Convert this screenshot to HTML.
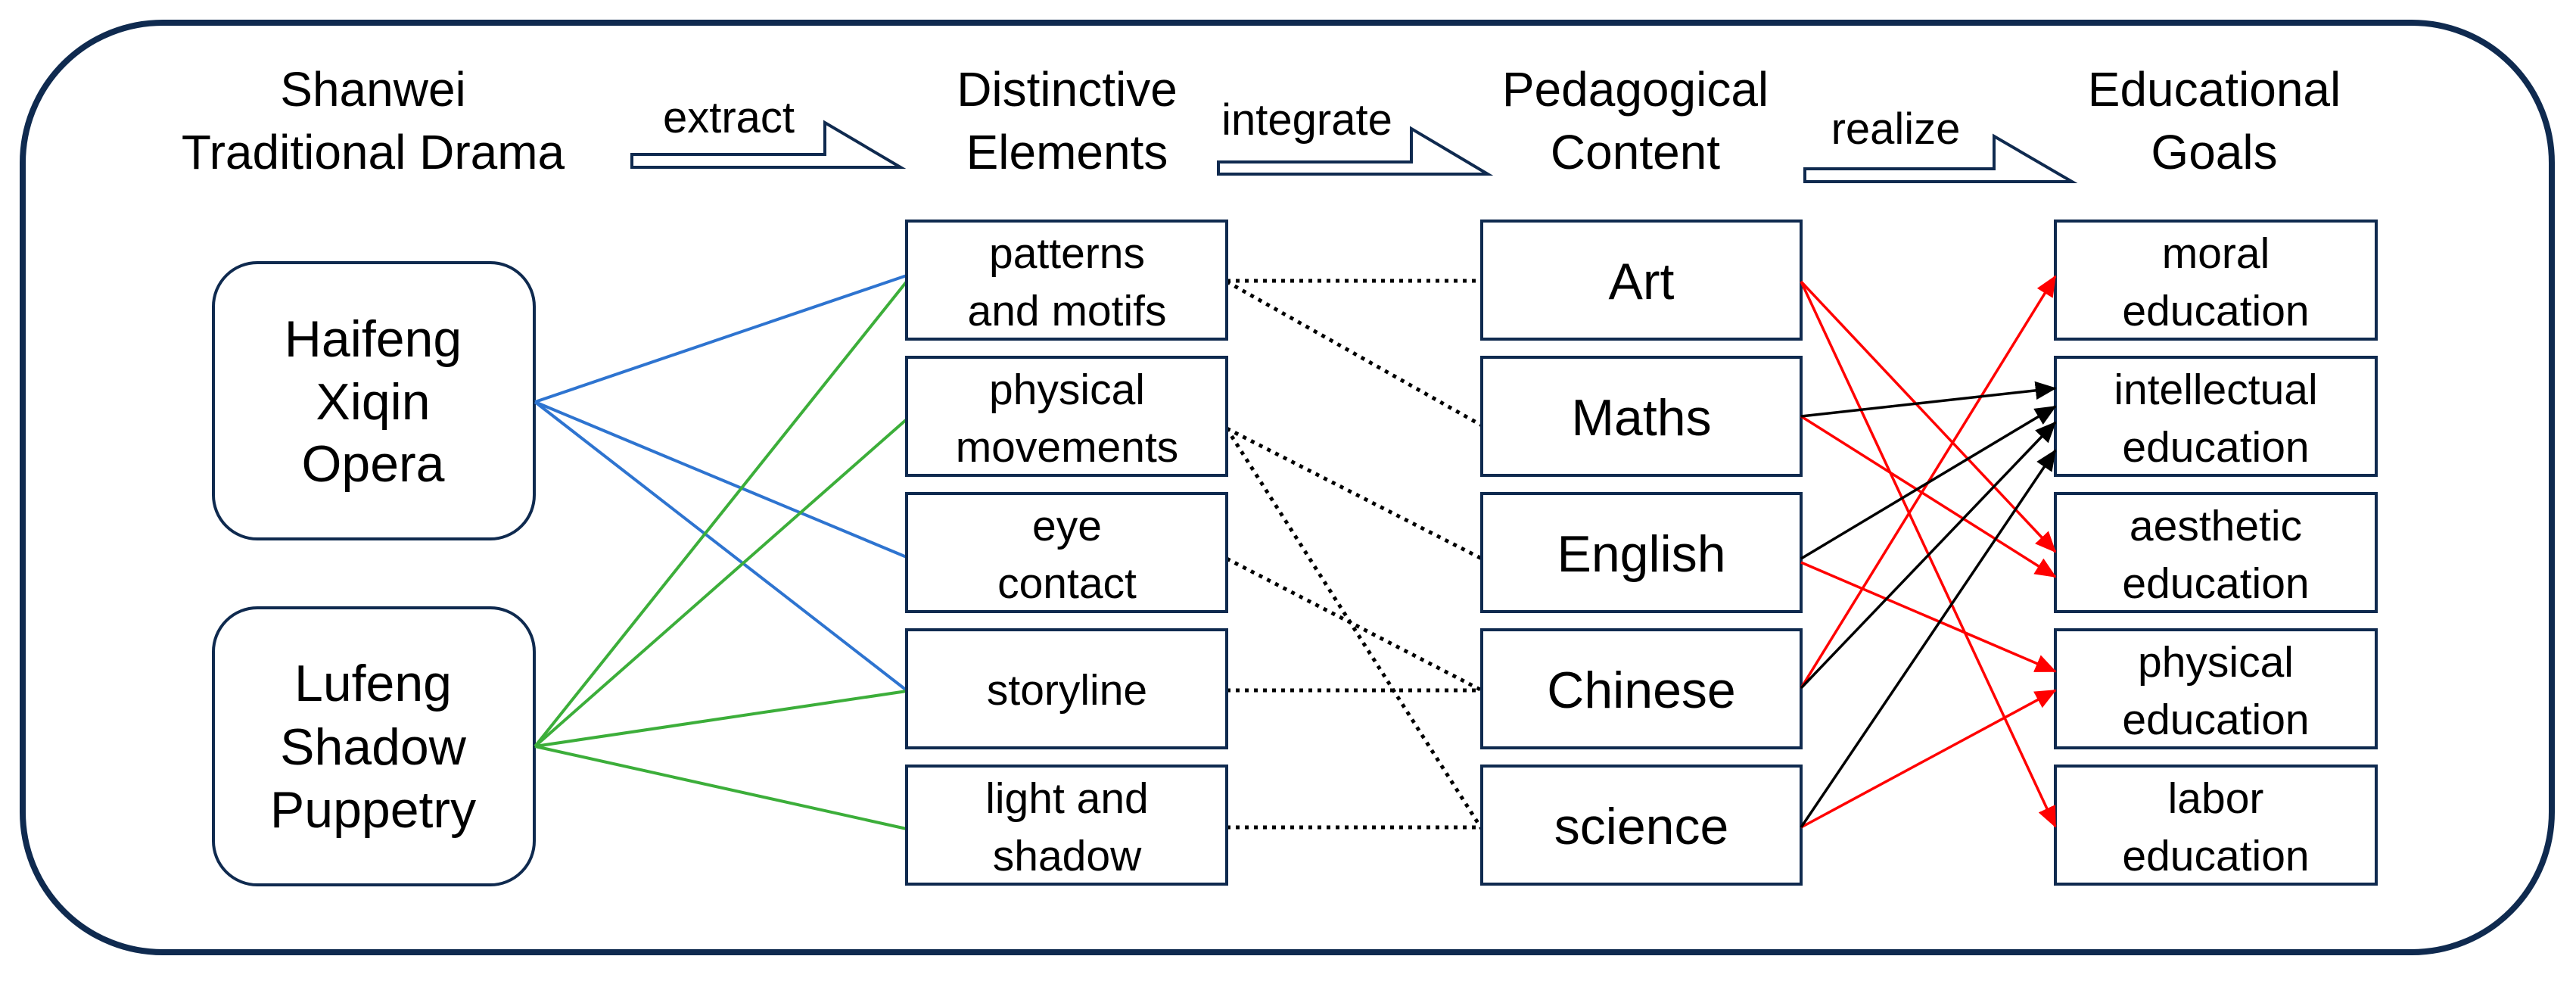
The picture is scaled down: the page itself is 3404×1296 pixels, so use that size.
<!DOCTYPE html>
<html><head><meta charset="utf-8"><style>
html,body{margin:0;padding:0;background:#fff;}
svg{display:block;}
text{font-family:"Liberation Sans",Arial,sans-serif;fill:#000;text-anchor:middle;}
</style></head><body>
<svg width="3404" height="1296" viewBox="0 0 3404 1296" xmlns="http://www.w3.org/2000/svg">
<defs>
<marker id="ar" markerWidth="8" markerHeight="7" refX="7.5" refY="3.5" orient="auto" markerUnits="strokeWidth"><path d="M0,0 L8,3.5 L0,7 z" fill="#ff0000"/></marker>
<marker id="ab" markerWidth="8" markerHeight="7" refX="7.5" refY="3.5" orient="auto" markerUnits="strokeWidth"><path d="M0,0 L8,3.5 L0,7 z" fill="#000"/></marker>
</defs>
<rect x="30" y="30" width="3342" height="1228" rx="185" ry="185" fill="none" stroke="#0f2a4f" stroke-width="8"/>

<!-- headers -->
<g font-size="64">
<text x="493" y="140">Shanwei</text><text x="493" y="223">Traditional Drama</text>
<text x="1410" y="140">Distinctive</text><text x="1410" y="223">Elements</text>
<text x="2161" y="140">Pedagogical</text><text x="2161" y="223">Content</text>
<text x="2926" y="140">Educational</text><text x="2926" y="223">Goals</text>
</g>
<g font-size="58">
<text x="963" y="175">extract</text>
<text x="1727" y="178">integrate</text>
<text x="2505" y="190">realize</text>
</g>
<g fill="none" stroke="#0f2a4f" stroke-width="4" stroke-linejoin="miter">
<path d="M835,204 L1090,204 L1090,162 L1190,221 L835,221 Z"/>
<path d="M1610,214 L1865,214 L1865,170 L1966,230 L1610,230 Z"/>
<path d="M2385,223 L2635,223 L2635,180 L2738,240 L2385,240 Z"/>
</g>

<!-- left rounded boxes -->
<g fill="none" stroke="#0f2a4f" stroke-width="4">
<rect x="282" y="347" width="424" height="365" rx="58"/>
<rect x="282" y="803" width="424" height="366" rx="58"/>
</g>
<g font-size="68">
<text x="493" y="471">Haifeng</text><text x="493" y="554">Xiqin</text><text x="493" y="636">Opera</text>
<text x="493" y="926">Lufeng</text><text x="493" y="1010">Shadow</text><text x="493" y="1093">Puppetry</text>
</g>

<!-- connectors blue/green -->
<g stroke="#2e74d0" stroke-width="4">
<line x1="707" y1="531" x2="1198" y2="364"/>
<line x1="707" y1="531" x2="1198" y2="736"/>
<line x1="707" y1="531" x2="1198" y2="912"/>
</g>
<g stroke="#3cae3a" stroke-width="4">
<line x1="707" y1="986" x2="1198" y2="372"/>
<line x1="707" y1="986" x2="1198" y2="554"/>
<line x1="707" y1="986" x2="1198" y2="913"/>
<line x1="707" y1="986" x2="1198" y2="1095"/>
</g>

<!-- dotted -->
<g stroke="#000" stroke-width="5" stroke-dasharray="5 7">
<line x1="1621" y1="371" x2="1958" y2="371"/>
<line x1="1621" y1="372" x2="1958" y2="562"/>
<line x1="1621" y1="566" x2="1958" y2="738"/>
<line x1="1621" y1="566" x2="1958" y2="1095"/>
<line x1="1621" y1="738" x2="1958" y2="912"/>
<line x1="1621" y1="912" x2="1958" y2="912"/>
<line x1="1621" y1="1093" x2="1958" y2="1093"/>
</g>

<!-- boxes -->
<g fill="#fff" stroke="#0f2a4f" stroke-width="4">
<rect x="1198" y="292" width="423" height="156"/>
<rect x="1198" y="472" width="423" height="156"/>
<rect x="1198" y="652" width="423" height="156"/>
<rect x="1198" y="832" width="423" height="156"/>
<rect x="1198" y="1012" width="423" height="156"/>
<rect x="1958" y="292" width="422" height="156"/>
<rect x="1958" y="472" width="422" height="156"/>
<rect x="1958" y="652" width="422" height="156"/>
<rect x="1958" y="832" width="422" height="156"/>
<rect x="1958" y="1012" width="422" height="156"/>
<rect x="2716" y="292" width="424" height="156"/>
<rect x="2716" y="472" width="424" height="156"/>
<rect x="2716" y="652" width="424" height="156"/>
<rect x="2716" y="832" width="424" height="156"/>
<rect x="2716" y="1012" width="424" height="156"/>
</g>
<g font-size="57">
<text x="1410" y="354">patterns</text><text x="1410" y="430">and motifs</text>
<text x="1410" y="534">physical</text><text x="1410" y="610">movements</text>
<text x="1410" y="714">eye</text><text x="1410" y="790">contact</text>
<text x="1410" y="931">storyline</text>
<text x="1410" y="1074">light and</text><text x="1410" y="1150">shadow</text>
<text x="2928" y="354">moral</text><text x="2928" y="430">education</text>
<text x="2928" y="534">intellectual</text><text x="2928" y="610">education</text>
<text x="2928" y="714">aesthetic</text><text x="2928" y="790">education</text>
<text x="2928" y="894">physical</text><text x="2928" y="970">education</text>
<text x="2928" y="1074">labor</text><text x="2928" y="1150">education</text>
</g>
<g font-size="68">
<text x="2169" y="395">Art</text>
<text x="2169" y="575">Maths</text>
<text x="2169" y="755">English</text>
<text x="2169" y="935">Chinese</text>
<text x="2169" y="1115">science</text>
</g>

<!-- arrows -->
<g stroke="#ff0000" stroke-width="3.5" marker-end="url(#ar)" fill="none">
<line x1="2380" y1="372" x2="2716" y2="729"/>
<line x1="2380" y1="372" x2="2716" y2="1092"/>
<line x1="2380" y1="550" x2="2716" y2="762"/>
<line x1="2380" y1="743" x2="2716" y2="887"/>
<line x1="2380" y1="909" x2="2716" y2="365"/>
<line x1="2380" y1="1093" x2="2716" y2="912"/>
</g>
<g stroke="#000" stroke-width="3.5" marker-end="url(#ab)" fill="none">
<line x1="2380" y1="550" x2="2716" y2="513"/>
<line x1="2380" y1="738" x2="2716" y2="537"/>
<line x1="2380" y1="909" x2="2716" y2="558"/>
<line x1="2380" y1="1093" x2="2716" y2="595"/>
</g>
</svg>
</body></html>
